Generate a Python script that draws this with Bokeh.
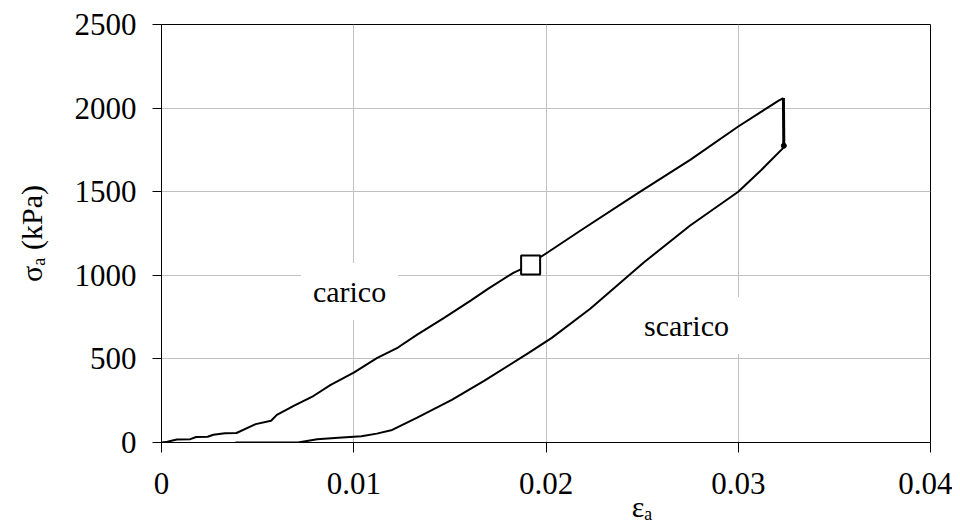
from bokeh.plotting import figure
from bokeh.models import (FixedTicker, NumeralTickFormatter, Label, Range1d, LinearAxis,
                          CustomJSTickFormatter)
from bokeh.embed import file_html
from bokeh.resources import INLINE

# ---- data ----
x_ticks = [0, 0.01, 0.02, 0.03, 0.04]
y_ticks = [0, 500, 1000, 1500, 2000, 2500]
x_title = "εₐ"
x_title_at = 0.025          # the reference places the x title off-centre
y_title = "σₐ (kPa)"

load_strain = [0.0, 0.0003, 0.0008, 0.0015, 0.0018, 0.0024, 0.0027, 0.0033, 0.0039,
               0.0049, 0.0057, 0.0060, 0.0069, 0.0079, 0.0088, 0.0100, 0.0112, 0.0123,
               0.0133, 0.0147, 0.0161, 0.0170, 0.0183, 0.0190, 0.0197, 0.0201, 0.0218,
               0.0247, 0.0275, 0.0300, 0.0321, 0.03235]
load_stress = [0, 5, 18, 20, 33, 34, 46, 56, 57,
               110, 130, 165, 220, 278, 345, 418, 505, 568,
               645, 745, 850, 920, 1015, 1052, 1108, 1138, 1268,
               1485, 1690, 1890, 2045, 2060]

relax_strain = [0.03235, 0.03237]
relax_stress = [2060, 1775]

unload_strain = [0.03237, 0.0312, 0.0300, 0.0275, 0.0251, 0.0223, 0.0203, 0.0191,
                 0.0168, 0.0151, 0.0133, 0.0120, 0.0112, 0.0104, 0.0092, 0.0081,
                 0.0071, 0.0039, 0.00347]
unload_stress = [1765, 1630, 1500, 1298, 1078, 800, 626, 536,
                 370, 255, 149, 75, 53, 37, 29, 19,
                 0, 0, -15]

marker_strain = [0.0192]
marker_stress = [1061]

end_strain = [0.03237]
end_stress = [1775]

FONT = "Liberation Serif"

p = figure(width=952, height=525, output_backend="svg", toolbar_location=None,
           x_range=Range1d(0, 0.04), y_range=Range1d(0, 2500),
           min_border_left=161, min_border_right=22, min_border_top=24,
           min_border_bottom=83)
p.background_fill_color = "white"
p.border_fill_color = "white"
p.outline_line_color = "black"
p.outline_line_width = 1

# axes
p.xaxis.ticker = FixedTicker(ticks=x_ticks)
p.yaxis.ticker = FixedTicker(ticks=y_ticks)
p.xaxis.formatter = NumeralTickFormatter(format="0.[00]")
for ax in (p.xaxis, p.yaxis):
    ax.major_label_text_font = FONT
    ax.major_label_text_font_size = "31px"
    ax.major_label_text_color = "black"
    ax.axis_line_color = "black"
    ax.axis_line_width = 1
    ax.major_tick_line_color = "black"
    ax.major_tick_in = 0
    ax.minor_tick_line_color = None
p.xaxis.major_tick_out = 10
p.yaxis.major_tick_out = 9
p.xaxis.major_label_standoff = 20
p.yaxis.major_label_standoff = 16

p.yaxis.axis_label = y_title
p.yaxis.axis_label_text_font = FONT
p.yaxis.axis_label_text_font_size = "30px"
p.yaxis.axis_label_text_font_style = "normal"
p.yaxis.axis_label_text_color = "black"
p.yaxis.axis_label_standoff = 24

# x-axis title: a second, line-less axis below the first, with one label
title_ax = LinearAxis(ticker=FixedTicker(ticks=[x_title_at]),
                      formatter=CustomJSTickFormatter(args=dict(t=x_title), code="return t"),
                      axis_line_color=None, major_tick_line_color=None,
                      minor_tick_line_color=None, major_tick_out=0, major_tick_in=0,
                      major_label_standoff=-7,
                      major_label_text_font=FONT, major_label_text_font_size="30px",
                      major_label_text_color="black")
p.add_layout(title_ax, "below")

# grid
p.xgrid.grid_line_color = "#c0c0c0"
p.ygrid.grid_line_color = "#c0c0c0"
p.xgrid.grid_line_width = 1
p.ygrid.grid_line_width = 1
p.xgrid.ticker = FixedTicker(ticks=x_ticks)

# curves
p.line(load_strain, load_stress, line_color="black", line_width=2)
p.line(relax_strain, relax_stress, line_color="black", line_width=3)
p.line(unload_strain, unload_stress, line_color="black", line_width=2)
p.scatter(end_strain, end_stress, marker="circle", size=5, fill_color="black",
          line_color="black")
p.scatter(marker_strain, marker_stress, marker="square", size=19,
          fill_color="white", line_color="black", line_width=2)

# text labels with white boxes
for txt, lx, ly in [("carico", 0.00978, 903), ("scarico", 0.02731, 700)]:
    p.add_layout(Label(x=lx, y=ly, text=txt, text_font=FONT, text_font_size="30px",
                       text_color="black", text_align="center", text_baseline="middle",
                       background_fill_color="white", padding=12))

open("out.html", "w").write(file_html(p, INLINE))
